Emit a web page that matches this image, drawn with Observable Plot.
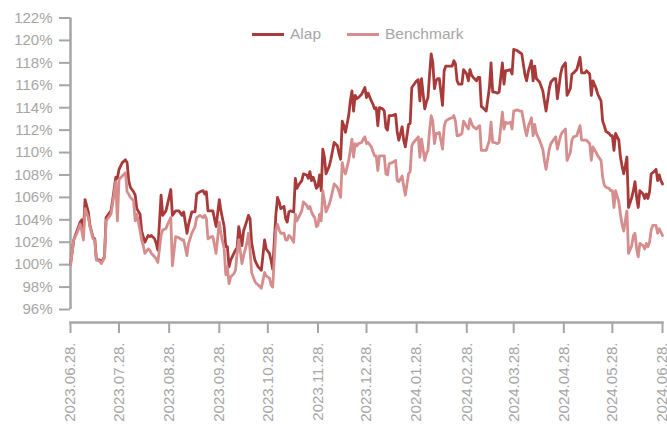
<!DOCTYPE html>
<html>
<head>
<meta charset="utf-8">
<script src="https://cdn.jsdelivr.net/npm/d3@7"></script>
<script src="https://cdn.jsdelivr.net/npm/@observablehq/plot@0.6"></script>
<style>
  html, body { margin: 0; padding: 0; background: #fff; }
  #wrap { position: relative; width: 667px; height: 425px; font-family: "Liberation Sans", Arial, sans-serif; }
  #legend { position: absolute; left: 252px; top: 24px; height: 20px; display: flex; align-items: center; font-size: 15.5px; color: #a6a6a6; white-space: nowrap; }
  #legend .item { display: flex; align-items: center; margin-right: 26px; }
  #legend .swatch { width: 32px; height: 3px; margin-right: 6px; }
</style>
</head>
<body>
<div id="wrap"><div id="legend"></div></div>
<script>
const seriesNames = ["Alap", "Benchmark"];
const seriesColors = ["#a83a3a", "#d68d8d"];

const dates = [
"2023-06-28","2023-06-30","2023-07-02","2023-07-04","2023-07-05","2023-07-06","2023-07-07","2023-07-09","2023-07-10","2023-07-12",
"2023-07-13","2023-07-14","2023-07-16","2023-07-17","2023-07-19","2023-07-20","2023-07-23","2023-07-24","2023-07-26","2023-07-27",
"2023-07-28","2023-07-30","2023-08-01","2023-08-02","2023-08-03","2023-08-04","2023-08-06","2023-08-07","2023-08-08","2023-08-10",
"2023-08-11","2023-08-12","2023-08-13","2023-08-15","2023-08-16","2023-08-17","2023-08-19","2023-08-20","2023-08-21","2023-08-23",
"2023-08-24","2023-08-26","2023-08-27","2023-08-29","2023-08-30","2023-09-01","2023-09-03","2023-09-05","2023-09-06","2023-09-08",
"2023-09-09","2023-09-11","2023-09-13","2023-09-14","2023-09-16","2023-09-18","2023-09-19","2023-09-20","2023-09-21","2023-09-23",
"2023-09-24","2023-09-26","2023-09-28","2023-09-29","2023-10-01","2023-10-02","2023-10-03","2023-10-04","2023-10-05","2023-10-07",
"2023-10-08","2023-10-09","2023-10-10","2023-10-12","2023-10-13","2023-10-15","2023-10-16","2023-10-17","2023-10-18","2023-10-20",
"2023-10-21","2023-10-22","2023-10-24","2023-10-26","2023-10-27","2023-10-29","2023-10-30","2023-10-31","2023-11-02","2023-11-03",
"2023-11-04","2023-11-05","2023-11-07","2023-11-08","2023-11-09","2023-11-10","2023-11-11","2023-11-13","2023-11-14","2023-11-15",
"2023-11-16","2023-11-18","2023-11-19","2023-11-21","2023-11-22","2023-11-23","2023-11-24","2023-11-25","2023-11-26","2023-11-27",
"2023-11-28","2023-11-29","2023-11-30","2023-12-01","2023-12-02","2023-12-03","2023-12-05","2023-12-06","2023-12-08","2023-12-10",
"2023-12-11","2023-12-12","2023-12-13","2023-12-14","2023-12-15","2023-12-17","2023-12-18","2023-12-19","2023-12-20","2023-12-21",
"2023-12-22","2023-12-23","2023-12-25","2023-12-26","2023-12-27","2023-12-28","2023-12-29","2023-12-31","2024-01-01","2024-01-02",
"2024-01-03","2024-01-04","2024-01-05","2024-01-07","2024-01-08","2024-01-09","2024-01-10","2024-01-11","2024-01-13","2024-01-15",
"2024-01-16","2024-01-17","2024-01-19","2024-01-20","2024-01-21","2024-01-23","2024-01-24","2024-01-25","2024-01-26","2024-01-28",
"2024-01-29","2024-01-30","2024-01-31","2024-02-02","2024-02-03","2024-02-04","2024-02-05","2024-02-06","2024-02-07","2024-02-08",
"2024-02-09","2024-02-10","2024-02-11","2024-02-13","2024-02-14","2024-02-15","2024-02-17","2024-02-19","2024-02-20","2024-02-21",
"2024-02-22","2024-02-23","2024-02-25","2024-02-26","2024-02-28","2024-02-29","2024-03-01","2024-03-02","2024-03-03","2024-03-05",
"2024-03-06","2024-03-07","2024-03-08","2024-03-09","2024-03-11","2024-03-13","2024-03-14","2024-03-15","2024-03-16","2024-03-18",
"2024-03-19","2024-03-21","2024-03-22","2024-03-23","2024-03-24","2024-03-26","2024-03-27","2024-03-28","2024-03-30","2024-04-01",
"2024-04-02","2024-04-04","2024-04-05","2024-04-06","2024-04-08","2024-04-09","2024-04-10","2024-04-11","2024-04-13","2024-04-15",
"2024-04-16","2024-04-17","2024-04-19","2024-04-20","2024-04-22","2024-04-23","2024-04-24","2024-04-26","2024-04-27","2024-04-29",
"2024-04-30","2024-05-02","2024-05-03","2024-05-04","2024-05-06","2024-05-08","2024-05-09","2024-05-11","2024-05-12","2024-05-14",
"2024-05-15","2024-05-16","2024-05-18","2024-05-19","2024-05-21","2024-05-22","2024-05-23","2024-05-24","2024-05-26","2024-05-27",
"2024-05-28","2024-05-29","2024-05-30","2024-06-01","2024-06-02","2024-06-03","2024-06-04","2024-06-05","2024-06-06","2024-06-07",
"2024-06-09","2024-06-10","2024-06-11","2024-06-12","2024-06-13","2024-06-14","2024-06-16","2024-06-17","2024-06-18","2024-06-19",
"2024-06-20","2024-06-21","2024-06-22","2024-06-24","2024-06-25","2024-06-26","2024-06-27","2024-06-28"
];

const alap = [
100,102.2,103,103.8,104,103,105.8,104.7,103.5,102.4,
102.3,100.5,100.4,100.2,100.7,104.2,104.8,105.7,107.8,107.7,
108.5,109.1,109.35,109.1,107.5,106.9,106.5,106.2,105,104.5,
103,102.5,102,102.6,102.5,102.6,102.3,101.9,101.3,106.2,
104.4,104.8,105.4,106.7,104.4,104.8,104.8,104.4,104.7,102.8,
103.6,104.7,104.7,106.3,106.5,106.6,106.3,106.5,104.8,104.8,
104.8,103.4,105.8,104.8,103.4,101.6,101.6,99.8,100.4,101,
101.3,101.5,103.4,101.7,103,103.9,104.4,104.1,101.9,100.4,
100.1,99.8,99.5,102.2,101.4,101,100.4,99.6,104.5,106,
105.6,105,105.2,104.1,103.8,104.7,104.8,104.7,107.7,106.8,
107.1,107.5,108.1,108,107.7,108.3,107.5,107.8,107.4,106.8,
107,108,106.6,110.3,109.6,108.1,108.8,109.4,110.9,110.6,
109.9,109.4,112.8,112.4,111.8,113.3,114.6,115.5,113.7,115.1,
114.8,114.9,115.2,115.5,115.8,114.9,115.3,114.6,114.3,113.9,
114,112.4,114,113.9,113.7,112.2,112,113.3,113.3,113.4,
111.8,111.1,112.3,111.1,110.5,112.5,112.6,115.8,116,116.4,
116.5,114.6,116.6,113.9,114.5,114.9,117,118.8,118,115.7,
116.4,116.6,116.6,114.2,117.3,117.7,117.7,117.7,118.2,117.9,
116.4,116.1,116.1,117.4,117,116.4,117.4,116.9,116.7,116.4,
116.7,116.7,114.1,114,113.7,115.8,118,115.4,115.4,115.3,
115.4,118,116.1,117.3,117.3,117.4,117,119.2,119.1,118.9,
118.8,116.9,116.4,117.2,118.2,116.4,117.7,116.6,116.3,115.5,
114.6,113.7,115.7,116.3,116.6,116.6,114.8,117,117.6,118,
115.1,115.7,117,117.1,117.4,118.5,117.1,117.1,117.3,117,
115.1,116.4,115.7,115.2,114.6,112.8,112.4,111.9,111.7,111.5,
111.5,110.2,111.7,111.1,109.6,108.8,108.1,108.8,109.6,105.1,
106,106.6,107.4,106,105.1,106.6,106.3,105.9,106.3,105.9,
106.5,108.1,108.2,108.5,107.5,108,107.5,107.2
];

const benchmark = [
100,102.2,102.8,103.6,103,102.2,105,104.2,103.4,102.3,
102.2,100.4,100.3,100.1,100.6,103.9,104.5,105.4,107.4,103.9,
107.6,107.9,108.2,106.5,106.3,106,105.7,103.9,104.5,103,
102.2,101.7,101,101.4,101.3,101,100.7,100.5,100.2,102.6,
103.1,103.2,103.6,104.2,99.9,102.5,102.4,102.2,102.2,100.8,
101.9,102.8,103.4,104.2,104.4,104.2,104.4,104.1,102.3,102.5,
102.5,101,103.8,102.8,101.4,99.1,99.8,98.3,98.9,99.2,
99.5,101,102.2,100.1,100.8,101.9,102.8,101.3,99.3,98.5,
98.3,98.2,97.9,99.3,99,98.8,98.2,98,103.1,103.6,
103.1,102.8,102.8,102.2,102.2,102.6,102.5,102,104.5,103.9,
104.2,104.8,105.6,105.3,105,105.2,104.7,104.4,104.2,103.4,
103.5,104.5,103.9,106.6,105.7,104.7,105.4,105.9,107.2,106.9,
106.5,106,109.1,108.4,108.1,109.3,110.2,111.2,109.6,110.8,
110.6,110.8,110.9,111.2,111.4,110.8,110.9,110.5,110.1,109.7,
109.7,108.4,109.7,109.7,109.7,108.1,108,109,109.1,109.3,
107.5,107.4,107.9,107,106.2,108.1,108.3,110.6,110.9,111.2,
111.4,109.6,111.2,109.3,109.9,110.2,112,113.3,112.8,110.8,
111.7,111.7,111.8,110.3,112.3,112.8,113,113.1,113.3,112.8,
111.5,111.5,111.7,112.8,112.3,112.1,113,112.6,112.3,112.1,
112.3,112.4,110.2,110.2,110.2,111.1,112.7,110.9,110.9,110.8,
110.9,113.6,112.1,112.7,112.6,112.7,112.1,113.7,113.8,113.7,
113.7,112.1,111.5,112.3,113.1,111.5,112.5,111.7,111.1,110.3,
109.3,108.5,110.3,110.8,111.2,111.4,110.3,111.5,111.8,112.1,
109.3,110,111.1,111.4,111.5,112.4,111.1,111.1,111.1,110.8,
109.3,110.5,110,109.7,109.3,107.8,107.1,106.9,106.8,106.6,
106.6,105.1,106.6,105.6,104.5,103.6,103,103.9,104.8,101,
101.7,102.6,102.8,101.4,100.7,101.9,101.7,101.4,101.9,101.6,
102,103.1,103.5,103.5,102.8,103.2,102.9,102.6
];

const yTicks = [96, 98, 100, 102, 104, 106, 108, 110, 112, 114, 116, 118, 120, 122];
const xTickLabels = ["2023-06-28","2023-07-28","2023-08-28","2023-09-28","2023-10-28","2023-11-28","2023-12-28",
                     "2024-01-28","2024-02-28","2024-03-28","2024-04-28","2024-05-28","2024-06-28"];

const parse = d3.utcParse("%Y-%m-%d");
const rows = dates.map((d, i) => ({date: parse(d), Alap: alap[i], Benchmark: benchmark[i]}));
const xTicks = xTickLabels.map(parse);
const axisColor = "#a6a6a6";

const chart = Plot.plot({
  width: 667,
  height: 425,
  marginTop: 17.5,
  marginLeft: 70,
  marginRight: 5,
  marginBottom: 103,
  insetBottom: 13,
  style: {fontFamily: "'Liberation Sans', Arial, sans-serif", fontSize: "15px", color: axisColor, background: "#fff"},
  x: {type: "utc", domain: [xTicks[0], xTicks[xTicks.length - 1]]},
  y: {domain: [yTicks[0], yTicks[yTicks.length - 1]]},
  marks: [
    Plot.ruleX([xTicks[0]], {y1: yTicks[0], y2: yTicks[yTicks.length - 1], stroke: axisColor, strokeWidth: 2.5}),
    Plot.frame({anchor: "bottom", stroke: axisColor, strokeWidth: 2.5}),
    Plot.axisY({ticks: yTicks, tickSize: 11, tickPadding: 7, tickFormat: d => d + "%", label: null, strokeWidth: 2}),
    Plot.axisX({ticks: xTicks, tickSize: 11, tickPadding: 9, tickRotate: -90, tickFormat: d3.utcFormat("%Y.%m.%d."), label: null, strokeWidth: 2}),
    Plot.line(rows, {x: "date", y: "Alap", stroke: seriesColors[0], strokeWidth: 2.8}),
    Plot.line(rows, {x: "date", y: "Benchmark", stroke: seriesColors[1], strokeWidth: 2.8})
  ]
});
const wrap = document.getElementById("wrap");
wrap.insertBefore(chart, wrap.firstChild);

const legend = document.getElementById("legend");
seriesNames.forEach((name, i) => {
  const item = document.createElement("div");
  item.className = "item";
  const sw = document.createElement("span");
  sw.className = "swatch";
  sw.style.background = seriesColors[i];
  const label = document.createElement("span");
  label.textContent = name;
  item.appendChild(sw);
  item.appendChild(label);
  legend.appendChild(item);
});
</script>
</body>
</html>
